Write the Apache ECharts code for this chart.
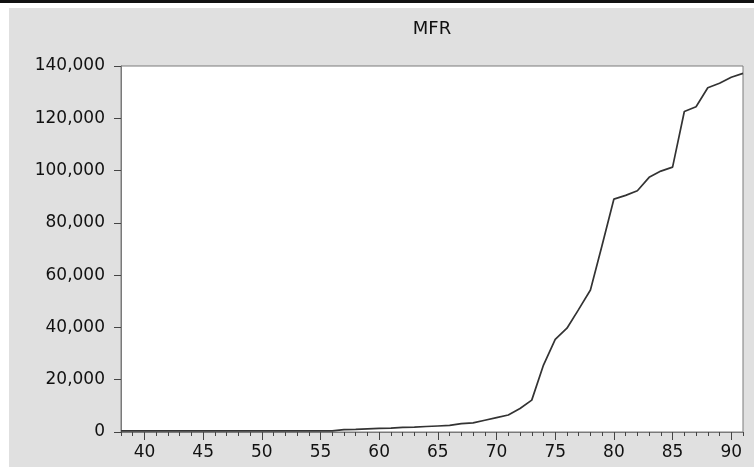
<!DOCTYPE html>
<html>
<head>
<meta charset="utf-8">
<script src="https://cdn.jsdelivr.net/npm/echarts@6/dist/echarts.min.js"></script>
<style>
    html, body { margin: 0; padding: 0; background: #ffffff; }
    #topbar { position: absolute; left: 0; top: 0; width: 754px; height: 3px; background: #111111; }
    #chart { position: absolute; left: 9px; top: 8px; width: 745px; height: 459px; }
</style>
</head>
<body>
<div id="topbar"></div>
<div id="chart"></div>
<script>
// years 1938 - 1991 (shown as 38..91)
var years = [38, 39, 40, 41, 42, 43, 44, 45, 46, 47, 48, 49, 50, 51, 52, 53, 54, 55, 56,
    57, 58, 59, 60, 61, 62, 63, 64, 65, 66, 67, 68, 69, 70, 71, 72, 73, 74, 75, 76, 77, 78, 79,
    80, 81, 82, 83, 84, 85, 86, 87, 88, 89, 90, 91];
var mfr = [400, 400, 400, 400, 400, 400, 400, 400, 400, 400, 400, 400, 400, 400, 400, 400, 400, 400, 400,
    900, 1000, 1200, 1400, 1500, 1800, 1900, 2100, 2300, 2500, 3200, 3500, 4500, 5500, 6500, 9000, 12200,
    25600, 35400, 39700, 46900, 54300, 71500,
    89100, 90500, 92300, 97400, 99800, 101300, 122600, 124400, 131700, 133400, 135700, 137200];
var xLabels = [40, 45, 50, 55, 60, 65, 70, 75, 80, 85, 90];

var points = [];
for (var i = 0; i < years.length; i++) {
    points.push([years[i], mfr[i]]);
}

var font = 'DejaVu Sans';
var myChart = echarts.init(document.getElementById('chart'));
myChart.setOption({
    backgroundColor: '#e0e0e0',
    animation: false,
    title: {
        text: 'MFR',
        left: 423,
        top: 12,
        padding: 0,
        textAlign: 'center',
        textStyle: { fontFamily: font, fontSize: 18, fontWeight: 'normal', color: '#111' }
    },
    grid: {
        left: 112,
        right: 11,
        top: 58,
        bottom: 35,
        show: true,
        backgroundColor: '#ffffff',
        borderColor: '#7a7a7a',
        borderWidth: 1
    },
    xAxis: [{
        type: 'value',
        min: 38,
        max: 91,
        interval: 1,
        axisLine: { show: true, lineStyle: { color: '#7a7a7a' } },
        axisTick: { show: true, length: 4, lineStyle: { color: '#444' } },
        axisLabel: { show: false },
        splitLine: { show: false }
    }, {
        type: 'value',
        position: 'bottom',
        min: 38,
        max: 91,
        axisLine: { show: false },
        axisTick: { show: true, length: 8, customValues: xLabels, lineStyle: { color: '#444' } },
        axisLabel: {
            customValues: xLabels,
            margin: 12,
            fontFamily: font,
            fontSize: 17,
            color: '#111'
        },
        splitLine: { show: false }
    }],
    yAxis: {
        type: 'value',
        min: 0,
        max: 140000,
        interval: 20000,
        axisLine: { show: true, lineStyle: { color: '#7a7a7a' } },
        axisTick: { show: true, length: 7, lineStyle: { color: '#444' } },
        axisLabel: {
            margin: 16,
            fontFamily: font,
            fontSize: 17,
            color: '#111',
            formatter: function(v) { return v.toLocaleString('en-US'); }
        },
        splitLine: { show: false }
    },
    series: [{
        name: 'MFR',
        type: 'line',
        data: points,
        showSymbol: false,
        clip: true,
        lineStyle: { color: '#333', width: 1.7 }
    }]
});
</script>
</body>
</html>
